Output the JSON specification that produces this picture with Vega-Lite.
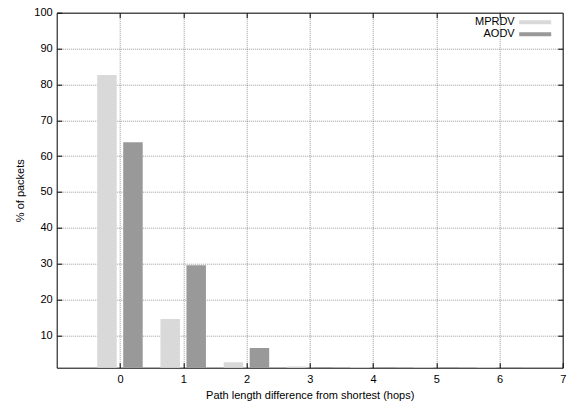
{
  "$schema": "https://vega.github.io/schema/vega-lite/v6.json",
  "width": 506,
  "height": 355,
  "autosize": "none",
  "padding": {"left": 56.7, "top": 12.7, "right": 5.3, "bottom": 37.3},
  "config": {
    "font": "Liberation Sans",
    "view": {"stroke": "#000000", "strokeWidth": 1},
    "axis": {
      "domain": false,
      "tickColor": "#000000",
      "tickSize": -5,
      "tickWidth": 1,
      "labelFontSize": 11,
      "labelColor": "#000000",
      "labelFlush": false,
      "titleFontSize": 11,
      "titleFontWeight": "normal",
      "titleColor": "#000000",
      "gridColor": "#555555",
      "gridDash": [1, 1],
      "gridWidth": 0.7,
      "gridOpacity": 0.85
    }
  },
  "data": {
    "values": [
      {"hops": 0, "protocol": "MPRDV", "pct": 82.6},
      {"hops": 0, "protocol": "AODV", "pct": 63.9},
      {"hops": 1, "protocol": "MPRDV", "pct": 14.6},
      {"hops": 1, "protocol": "AODV", "pct": 29.6},
      {"hops": 2, "protocol": "MPRDV", "pct": 2.5},
      {"hops": 2, "protocol": "AODV", "pct": 6.5},
      {"hops": 3, "protocol": "MPRDV", "pct": 1.3},
      {"hops": 3, "protocol": "AODV", "pct": 1.2},
      {"hops": 4, "protocol": "MPRDV", "pct": 1.2},
      {"hops": 4, "protocol": "AODV", "pct": 1.15},
      {"hops": 5, "protocol": "MPRDV", "pct": 1.15},
      {"hops": 5, "protocol": "AODV", "pct": 1.1},
      {"hops": 6, "protocol": "MPRDV", "pct": 1.1},
      {"hops": 6, "protocol": "AODV", "pct": 1.05}
    ]
  },
  "layer": [
    {
      "transform": [{"filter": "datum.protocol === 'MPRDV'"}],
      "mark": {"type": "bar", "width": 19.5, "xOffset": -13, "clip": true},
      "encoding": {
        "x": {
          "field": "hops", "type": "quantitative",
          "scale": {"domain": [-1, 7], "nice": false, "zero": false, "padding": 0},
          "axis": {
            "orient": "bottom",
            "values": [0, 1, 2, 3, 4, 5, 6, 7],
            "grid": true,
            "labelPadding": 10.5,
            "titlePadding": 5,
            "title": "Path length difference from shortest (hops)"
          }
        },
        "y": {
          "field": "pct", "type": "quantitative",
          "scale": {"domain": [1, 100], "nice": false, "zero": false, "padding": 0},
          "axis": {
            "orient": "left",
            "values": [10, 20, 30, 40, 50, 60, 70, 80, 90, 100],
            "grid": true,
            "labelPadding": 9.5,
            "titlePadding": 8,
            "title": "% of packets"
          }
        },
        "color": {
          "field": "protocol", "type": "nominal",
          "scale": {"domain": ["MPRDV", "AODV"], "range": ["#d9d9d9", "#999999"]},
          "legend": {
            "orient": "none",
            "legendX": 473,
            "legendY": 4,
            "title": null,
            "padding": 0,
            "rowPadding": 0,
            "symbolType": "M-4,-0.5H4V0.5H-4Z",
            "symbolSize": 64,
            "symbolStrokeWidth": 0,
            "symbolOpacity": 1,
            "labelAlign": "right",
            "labelOffset": -26,
            "labelFontSize": 11,
            "labelColor": "#000000"
          }
        }
      }
    },
    {
      "transform": [{"filter": "datum.protocol === 'AODV'"}],
      "mark": {"type": "bar", "width": 19.5, "xOffset": 13, "clip": true},
      "encoding": {
        "x": {
          "field": "hops", "type": "quantitative",
          "axis": {"orient": "top", "values": [0, 1, 2, 3, 4, 5, 6], "labels": false, "grid": false, "title": null}
        },
        "y": {
          "field": "pct", "type": "quantitative",
          "axis": {"orient": "right", "values": [10, 20, 30, 40, 50, 60, 70, 80, 90], "labels": false, "grid": false, "title": null}
        },
        "color": {"field": "protocol", "type": "nominal"}
      }
    }
  ],
  "resolve": {"axis": {"x": "independent", "y": "independent"}}
}
